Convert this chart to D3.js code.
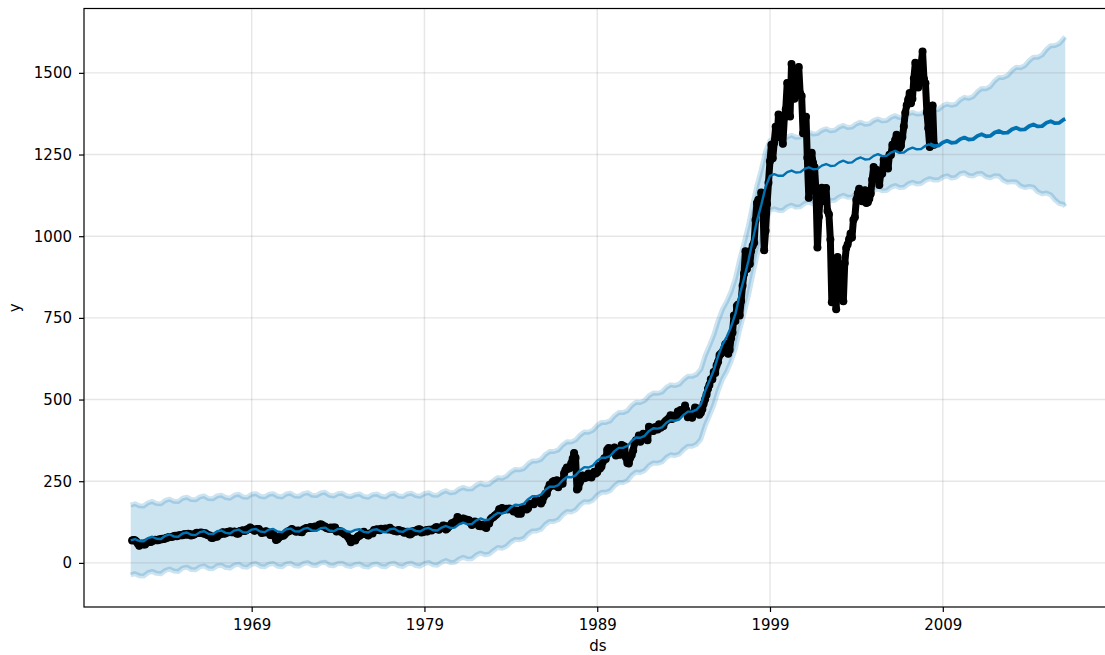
<!DOCTYPE html>
<html>
<head>
<meta charset="utf-8">
<script src="https://cdn.jsdelivr.net/npm/d3@7"></script>
<style>
  body { margin: 0; background: #fff; }
  svg { display: block; }
  text { font-family: "DejaVu Sans", sans-serif; }
</style>
</head>
<body>
<svg id="chart" width="1105" height="655"></svg>
<script>
// ---- Observed series: month-end index level, Jan 1962 .. Jun 2008 ----
const histStart = [1962, 0];           // year, month index of the first observation
const histClose = [
  68.84, 69.96, 69.55, 65.24, 59.63, 52.32, 58.23, 59.12, 56.27, 56.52, 62.26, 63.10,
  66.20, 64.29, 66.57, 69.80, 70.80, 69.37, 69.13, 72.50, 71.70, 74.01, 73.23, 75.02,
  77.04, 77.80, 78.98, 79.46, 80.37, 81.69, 83.18, 81.83, 84.18, 84.86, 84.42, 84.75,
  87.56, 87.43, 86.16, 89.11, 88.42, 84.12, 85.25, 87.17, 89.96, 92.42, 91.61, 92.43,
  92.88, 91.22, 89.23, 91.06, 86.13, 84.74, 83.60, 77.10, 76.56, 80.20, 80.45, 80.33,
  86.61, 86.78, 90.20, 94.01, 89.08, 90.64, 94.75, 93.64, 96.71, 93.90, 94.00, 96.47,
  92.24, 89.36, 90.20, 97.59, 98.68, 99.58, 97.74, 98.86, 102.67, 103.41, 108.37, 103.86,
  103.01, 98.13, 101.51, 103.69, 103.46, 97.71, 91.83, 95.51, 93.12, 97.24, 93.81, 92.06,
  85.02, 89.50, 89.63, 81.52, 70.00, 72.72, 78.05, 81.52, 84.21, 83.25, 87.20, 92.15,
  95.88, 96.75, 100.31, 103.95, 99.63, 98.70, 95.58, 99.03, 98.34, 94.23, 93.99, 102.09,
  103.94, 106.57, 107.20, 107.67, 109.53, 107.14, 107.39, 111.09, 110.55, 111.58, 116.67, 118.05,
  116.03, 111.68, 111.52, 106.97, 104.95, 104.26, 108.22, 104.25, 108.43, 108.29, 95.96, 97.55,
  96.57, 96.22, 93.98, 90.31, 87.28, 86.00, 79.31, 72.15, 63.54, 73.90, 69.97, 68.56,
  76.98, 81.59, 83.36, 87.30, 91.15, 95.19, 88.75, 86.88, 83.87, 89.04, 91.24, 90.19,
  100.86, 99.71, 102.77, 101.64, 100.18, 104.28, 103.44, 102.91, 105.24, 102.90, 102.10, 107.46,
  102.03, 99.82, 98.42, 98.44, 96.12, 100.48, 98.85, 96.77, 96.53, 92.34, 94.83, 95.10,
  89.25, 87.04, 89.21, 96.83, 97.24, 95.53, 100.68, 103.29, 102.54, 93.15, 94.70, 96.11,
  99.93, 96.28, 101.59, 101.76, 99.08, 102.91, 103.81, 109.32, 109.32, 101.82, 106.16, 107.94,
  114.16, 113.66, 102.09, 106.29, 111.24, 114.24, 121.67, 122.38, 125.46, 127.47, 140.52, 135.76,
  129.55, 131.27, 136.00, 132.81, 132.59, 131.21, 130.92, 122.79, 116.18, 121.89, 126.35, 122.55,
  120.40, 113.11, 111.96, 116.44, 111.88, 109.61, 107.09, 119.51, 120.42, 133.71, 138.54, 140.64,
  145.30, 148.06, 152.96, 164.42, 162.39, 168.11, 162.56, 164.40, 166.07, 163.55, 166.40, 164.93,
  163.41, 157.06, 159.18, 160.05, 150.55, 153.18, 150.66, 166.68, 166.10, 166.09, 163.58, 167.24,
  179.63, 181.18, 180.66, 179.83, 189.55, 191.85, 190.92, 188.63, 182.08, 189.82, 202.17, 211.28,
  211.78, 226.92, 238.90, 235.52, 247.35, 250.84, 236.12, 252.93, 231.32, 243.98, 249.22, 242.17,
  274.08, 284.20, 291.70, 288.36, 290.10, 304.00, 318.66, 336.77, 321.83, 224.84, 230.30, 247.08,
  257.07, 267.82, 258.89, 261.33, 262.16, 273.50, 272.02, 261.52, 271.91, 278.97, 273.70, 277.72,
  297.47, 288.86, 294.87, 309.64, 320.52, 317.98, 346.08, 351.45, 349.15, 340.36, 345.99, 353.40,
  329.08, 331.89, 339.94, 330.80, 361.23, 358.02, 356.15, 322.56, 306.05, 304.00, 322.22, 330.22,
  343.93, 367.07, 375.22, 375.35, 389.83, 371.16, 387.81, 395.43, 387.86, 392.46, 375.22, 417.09,
  408.79, 412.70, 403.69, 414.95, 415.35, 408.14, 424.21, 414.03, 417.80, 418.68, 431.35, 435.71,
  438.78, 443.38, 451.67, 440.19, 450.19, 450.53, 448.13, 463.56, 458.93, 467.83, 461.79, 466.45,
  481.61, 467.14, 445.77, 450.91, 456.50, 444.27, 458.26, 475.49, 462.69, 472.35, 453.69, 459.27,
  470.42, 487.39, 500.71, 514.71, 533.40, 544.75, 562.06, 561.88, 584.41, 581.50, 605.37, 615.93,
  636.02, 640.43, 645.50, 654.17, 669.12, 670.63, 639.95, 651.99, 687.31, 705.27, 757.02, 740.74,
  786.16, 790.82, 757.12, 801.34, 848.28, 885.14, 954.29, 899.47, 947.28, 914.62, 955.40, 970.43,
  980.28, 1049.34, 1101.75, 1111.75, 1090.82, 1133.84, 1120.67, 957.28, 1017.01, 1098.67, 1163.63, 1229.23,
  1279.64, 1238.33, 1286.37, 1335.18, 1301.84, 1372.71, 1328.72, 1320.41, 1282.71, 1362.93, 1388.91, 1469.25,
  1394.46, 1366.42, 1527.46, 1452.43, 1420.60, 1454.60, 1430.83, 1517.68, 1436.51, 1429.40, 1314.95, 1320.28,
  1366.01, 1239.94, 1117.58, 1249.46, 1255.82, 1224.42, 1211.23, 1133.58, 965.80, 1059.78, 1139.45, 1148.08,
  1130.20, 1106.73, 1147.39, 1076.92, 1067.14, 989.82, 797.70, 916.07, 815.28, 776.76, 936.31, 879.82,
  855.70, 841.15, 800.73, 916.92, 963.59, 974.50, 990.31, 1008.01, 995.97, 1050.71, 1058.20, 1111.92,
  1131.13, 1144.94, 1126.21, 1107.30, 1120.68, 1140.84, 1101.72, 1104.24, 1114.58, 1130.20, 1173.82, 1211.92,
  1181.27, 1203.60, 1180.59, 1156.85, 1191.50, 1191.33, 1234.18, 1220.33, 1228.81, 1207.01, 1249.48, 1248.29,
  1280.08, 1280.66, 1294.83, 1310.61, 1270.09, 1270.20, 1276.66, 1303.82, 1335.85, 1377.94, 1400.63, 1418.30,
  1438.24, 1406.82, 1420.86, 1482.37, 1530.62, 1503.35, 1455.27, 1473.99, 1526.75, 1565.15, 1481.14, 1468.36,
  1378.55, 1330.63, 1273.37, 1385.59, 1400.38, 1280.00
];

// ---- Model fit and forecast: quarterly (Jan/Apr/Jul/Oct) from Jan 1962, plus a final point ----
const fcStart = [1962, 0];
const fcEnd = "2016-02-03";
const historyEnd = "2008-06-30";
const fcYhat = [
  69, 73, 67, 66,   76, 80, 74, 73,   83, 87, 81, 80,   90, 93, 86, 85,
  94, 97, 89, 88,   97, 99, 92, 90,   99, 102, 94, 93,   102, 104, 96, 94,
  102, 104, 96, 94,   103, 105, 97, 96,   104, 107, 99, 98,   106, 108, 99, 97,
  104, 105, 97, 95,   101, 103, 95, 93,   101, 103, 96, 94,   103, 105, 97, 95,
  103, 105, 98, 96,   104, 107, 100, 99,   108, 113, 107, 108,   118, 123, 118, 119,
  130, 136, 131, 133,   144, 153, 151, 157,   170, 178, 177, 181,   195, 204, 204, 209,
  224, 233, 233, 238,   253, 263, 262, 268,   283, 293, 292, 298,   313, 322, 322, 327,
  342, 352, 352, 358,   374, 384, 383, 389,   404, 412, 411, 415,   429, 437, 435, 439,
  453, 463, 463, 469,   485, 526, 557, 590,   633, 668, 692, 723,   763, 821, 870, 924,
  988, 1047, 1096, 1151,   1185, 1190, 1185, 1185,   1196, 1201, 1195, 1196,   1206, 1211, 1205, 1206,
  1216, 1221, 1215, 1216,   1226, 1231, 1225, 1226,   1236, 1241, 1235, 1236,   1246, 1251, 1245, 1246,
  1256, 1261, 1255, 1256,   1266, 1271, 1266, 1267,   1277, 1282, 1276, 1277,   1287, 1292, 1286, 1287,
  1297, 1302, 1296, 1297,   1307, 1312, 1306, 1307,   1317, 1322, 1316, 1317,   1327, 1332, 1326, 1327,
  1337, 1342, 1336, 1337,   1347, 1352, 1346, 1347,   1357, 1359
];
const fcUpper = [
  177, 181, 175, 174,   184, 188, 182, 181,   191, 195, 189, 188,   198, 201, 194, 193,
  202, 205, 197, 196,   205, 207, 200, 198,   207, 210, 202, 201,   210, 212, 204, 202,
  210, 212, 204, 202,   211, 213, 205, 204,   212, 215, 207, 206,   214, 216, 207, 205,
  212, 213, 205, 203,   209, 211, 203, 201,   209, 211, 204, 202,   211, 213, 205, 203,
  211, 213, 206, 204,   212, 215, 208, 207,   216, 221, 215, 216,   226, 231, 226, 227,
  238, 244, 239, 241,   252, 261, 259, 265,   278, 286, 285, 289,   303, 312, 312, 317,
  332, 341, 341, 346,   361, 371, 370, 376,   391, 401, 400, 406,   421, 430, 430, 435,
  450, 460, 460, 466,   482, 492, 491, 497,   512, 520, 519, 523,   537, 545, 543, 547,
  561, 571, 571, 577,   593, 634, 665, 698,   741, 776, 800, 831,   871, 929, 978, 1032,
  1096, 1155, 1204, 1259,   1293, 1298, 1293, 1293,   1304, 1309, 1303, 1304,   1314, 1319, 1313, 1314,
  1324, 1329, 1323, 1324,   1334, 1339, 1333, 1334,   1344, 1349, 1343, 1344,   1354, 1359, 1353, 1354,
  1364, 1369, 1363, 1364,   1374, 1379, 1374, 1375,   1385, 1390, 1386, 1388,   1399, 1405, 1401, 1404,
  1417, 1425, 1422, 1427,   1442, 1452, 1451, 1458,   1475, 1486, 1486, 1492,   1507, 1517, 1516, 1522,
  1537, 1548, 1548, 1555,   1572, 1583, 1584, 1590,   1605, 1610
];
const fcLower = [
  -37, -33, -39, -40,   -30, -26, -32, -33,   -23, -19, -25, -26,   -16, -13, -20, -21,
  -12, -9, -17, -18,   -9, -7, -14, -16,   -7, -4, -12, -13,   -4, -2, -10, -12,
  -4, -2, -10, -12,   -3, -1, -9, -10,   -2, 1, -7, -8,   0, 2, -7, -9,
  -2, -1, -9, -11,   -5, -3, -11, -13,   -5, -3, -10, -12,   -3, -1, -9, -11,
  -3, -1, -8, -10,   -2, 1, -6, -7,   2, 7, 1, 2,   12, 17, 12, 13,
  24, 30, 25, 27,   38, 47, 45, 51,   64, 72, 71, 75,   89, 98, 98, 103,
  118, 127, 127, 132,   147, 157, 156, 162,   177, 187, 186, 192,   207, 216, 216, 221,
  236, 246, 246, 252,   268, 278, 277, 283,   298, 306, 305, 309,   323, 331, 329, 333,
  347, 357, 357, 363,   379, 420, 451, 484,   527, 562, 586, 617,   657, 715, 764, 818,
  882, 941, 990, 1045,   1079, 1084, 1079, 1079,   1090, 1095, 1089, 1090,   1100, 1105, 1099, 1100,
  1110, 1115, 1109, 1110,   1120, 1125, 1119, 1120,   1130, 1135, 1129, 1130,   1140, 1145, 1139, 1140,
  1150, 1155, 1149, 1150,   1160, 1165, 1160, 1161,   1171, 1176, 1172, 1172,   1181, 1185, 1178, 1180,
  1191, 1194, 1186, 1184,   1191, 1192, 1182, 1179,   1185, 1184, 1171, 1165,   1167, 1166, 1154, 1149,
  1152, 1150, 1136, 1130,   1132, 1127, 1111, 1100,   1097, 1091
];

// ---- Axis ticks ----
const xTickYears = [1969, 1979, 1989, 1999, 2009];
const yTickValues = [0, 250, 500, 750, 1000, 1250, 1500];
const xLabel = "ds";
const yLabel = "y";

// ---- Layout ----
const box = { left: 84, top: 8.5, right: 1112, bottom: 607 };
const parse = d3.timeParse("%Y-%m-%d");

const hist = histClose.map((v, i) => ({
  date: new Date(histStart[0], histStart[1] + i + 1, 0),
  value: v
}));
const fc = fcYhat.map((v, i) => ({
  date: i < fcYhat.length - 1 ? new Date(fcStart[0], fcStart[1] + 3 * i, 1) : parse(fcEnd),
  yhat: v,
  lower: fcLower[i],
  upper: fcUpper[i]
}));

// time domain padded by 5% on both sides of the full data range
const tMin = d3.min([hist[0].date, fc[0].date]);
const tMax = d3.max([hist[hist.length - 1].date, fc[fc.length - 1].date]);
const pad = (tMax - tMin) * 0.05;

const x = d3.scaleTime()
  .domain([new Date(+tMin - pad), new Date(+tMax + pad)])
  .range([box.left, box.right]);
const y = d3.scaleLinear()
  .domain([-135, 1697])
  .range([box.bottom, box.top]);

const svg = d3.select("#chart");

svg.append("defs").append("clipPath").attr("id", "plot-clip")
  .append("rect")
  .attr("x", box.left).attr("y", box.top)
  .attr("width", box.right - box.left).attr("height", box.bottom - box.top);

const plot = svg.append("g").attr("clip-path", "url(#plot-clip)");

// uncertainty interval
plot.append("path")
  .datum(fc)
  .attr("d", d3.area().x(d => x(d.date)).y0(d => y(d.lower)).y1(d => y(d.upper)))
  .attr("fill", "#0072B2")
  .attr("fill-opacity", 0.2);

["upper", "lower"].forEach(k => {
  plot.append("path")
    .datum(fc)
    .attr("d", d3.line().x(d => x(d.date)).y(d => y(d[k])))
    .attr("fill", "none")
    .attr("stroke", "#0072B2")
    .attr("stroke-opacity", 0.2)
    .attr("stroke-width", 5)
    .attr("stroke-linejoin", "round");
});

// grid
const gridG = plot.append("g").attr("stroke", "#808080").attr("stroke-opacity", 0.2).attr("stroke-width", 1.4);
const xTickDates = xTickYears.map(yr => new Date(yr, 0, 1));
gridG.selectAll("line.gx").data(xTickDates).join("line")
  .attr("x1", d => x(d)).attr("x2", d => x(d))
  .attr("y1", box.top).attr("y2", box.bottom);
gridG.selectAll("line.gy").data(yTickValues).join("line")
  .attr("x1", box.left).attr("x2", box.right)
  .attr("y1", d => y(d)).attr("y2", d => y(d));

// observed values
plot.append("path")
  .datum(hist)
  .attr("d", d3.line().x(d => x(d.date)).y(d => y(d.value)))
  .attr("fill", "none")
  .attr("stroke", "#000")
  .attr("stroke-width", 7)
  .attr("stroke-linejoin", "round")
  .attr("stroke-linecap", "round");
plot.append("g").selectAll("circle").data(hist).join("circle")
  .attr("cx", d => x(d.date))
  .attr("cy", d => y(d.value))
  .attr("r", 4)
  .attr("fill", "#000");

// fitted / forecast line
const cut = parse(historyEnd);
const fitPart = fc.filter(d => d.date <= cut);
const futPart = [fitPart[fitPart.length - 1]].concat(fc.filter(d => d.date > cut));
const yhatLine = d3.line().x(d => x(d.date)).y(d => y(d.yhat));
plot.append("path").datum(fitPart).attr("d", yhatLine)
  .attr("fill", "none").attr("stroke", "#0072B2").attr("stroke-width", 2.4)
  .attr("stroke-linejoin", "round");
plot.append("path").datum(futPart).attr("d", yhatLine)
  .attr("fill", "none").attr("stroke", "#0072B2").attr("stroke-width", 3.8)
  .attr("stroke-linejoin", "round");

// axes
const xAxis = d3.axisBottom(x).tickValues(xTickDates).tickFormat(d3.timeFormat("%Y"))
  .tickSize(5).tickPadding(7);
const yAxis = d3.axisLeft(y).tickValues(yTickValues).tickFormat(d3.format("d"))
  .tickSize(5).tickPadding(7);

const gx = svg.append("g").attr("transform", `translate(0,${box.bottom})`).call(xAxis);
const gy = svg.append("g").attr("transform", `translate(${box.left},0)`).call(yAxis);
[gx, gy].forEach(g => {
  g.select(".domain").remove();
  g.selectAll(".tick line").attr("stroke", "#000").attr("stroke-width", 1.2);
  g.selectAll(".tick text").attr("fill", "#000").style("font-size", "15px")
    .style("font-family", "'DejaVu Sans', sans-serif");
});

// frame
svg.append("rect")
  .attr("x", box.left).attr("y", box.top)
  .attr("width", box.right - box.left).attr("height", box.bottom - box.top)
  .attr("fill", "none").attr("stroke", "#000").attr("stroke-width", 1.2);

// axis labels
svg.append("text")
  .attr("x", (box.left + box.right) / 2).attr("y", 651)
  .attr("text-anchor", "middle").style("font-size", "15px").attr("fill", "#000")
  .text(xLabel);
svg.append("text")
  .attr("transform", `translate(20,${(box.top + box.bottom) / 2}) rotate(-90)`)
  .attr("text-anchor", "middle").style("font-size", "15px").attr("fill", "#000")
  .text(yLabel);
</script>
</body>
</html>
